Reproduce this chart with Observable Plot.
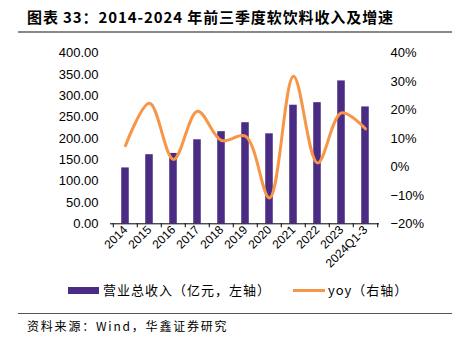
<!DOCTYPE html>
<html><head><meta charset="utf-8">
<script src="https://cdn.jsdelivr.net/npm/d3@7"></script>
<script src="https://cdn.jsdelivr.net/npm/@observablehq/plot@0.6"></script>
<style>
body{margin:0;width:457px;height:350px;position:relative;background:#fff;overflow:hidden;font-family:"Noto Sans CJK SC","Liberation Sans",sans-serif;color:#000}
#chart{position:absolute;left:0;top:0}
#title{position:absolute;left:27px;top:7px;font-size:15px;font-weight:bold;letter-spacing:0.9px;white-space:nowrap;line-height:20px}
#tline{position:absolute;left:18px;top:31px;width:434px;height:2px;background:#888}
.sw{position:absolute}
.lt{position:absolute;font-size:13px;letter-spacing:1px;line-height:16px;white-space:nowrap}
#sline{position:absolute;left:18px;top:313px;width:434px;height:1px;background:#555}
#source{position:absolute;left:27px;top:318px;font-size:12px;letter-spacing:1.8px;line-height:16px;white-space:nowrap}
</style>
</head><body>
<div id="chart"></div>
<div id="title">图表 33：2014-2024 年前三季度软饮料收入及增速</div>
<div id="tline"></div>
<div class="sw" style="left:68px;top:287px;width:31px;height:7px;background:#4B2C84"></div>
<div class="lt" style="left:103px;top:282px">营业总收入（亿元，左轴）</div>
<div class="sw" style="left:293px;top:289px;width:32px;height:3px;background:#F79646"></div>
<div class="lt" style="left:328px;top:282px">yoy（右轴）</div>
<div id="sline"></div>
<div id="source">资料来源：Wind，华鑫证券研究</div>
<script>
const categories = ["2014","2015","2016","2017","2018","2019","2020","2021","2022","2023","2024Q1-3"];
const revenue = [131,162,165,197,216,237,211,278,284,335,274];
const yoy = [7.5,22.4,2.6,19.6,9.3,10.8,-10.9,31.9,1.4,19.0,13.4];
const leftTicks = [0,50,100,150,200,250,300,350,400];
const rightTicks = [-20,-10,0,10,20,30,40];

const data = categories.map((c,i)=>({cat:c, rev:revenue[i], yoy:yoy[i]}));
const toLeft = v => (v + 20) * 400 / 60;
const fromLeft = v => v * 60 / 400 - 20;

const W = 457, ML = 110, MR = 78;
const step = (W - ML - MR) / categories.length;

const chart = Plot.plot({
  width: W, height: 280,
  marginLeft: ML, marginRight: MR, marginTop: 52.7, marginBottom: 56.7,
  x: {domain: categories, padding: 0, axis: null},
  y: {domain: [0, 400], axis: null},
  style: {fontFamily: "Liberation Sans, Arial, sans-serif", fontSize: "13px", color: "#000", background: "transparent"},
  marks: [
    Plot.barY(data, {x: "cat", y: "rev", fill: "#4B2C84", insetLeft: (step-8)/2, insetRight: (step-8)/2}),
    Plot.line(data, {x: "cat", y: d => toLeft(d.yoy), stroke: "#F79646", strokeWidth: 3, curve: "catmull-rom"}),
    Plot.ruleY([0], {stroke: "#000"}),
    Plot.axisY({anchor: "left", label: null, ticks: leftTicks, tickSize: 0, tickPadding: 12, tickFormat: d => d.toFixed(2)}),
    Plot.axisY({anchor: "right", label: null, ticks: rightTicks.map(toLeft), tickSize: 0, tickPadding: 11, tickFormat: d => {const v = Math.round(fromLeft(d)); return (v < 0 ? "\u2212" + (-v) : v) + "%";}}),
    Plot.axisX({label: null, ticks: categories, tickSize: 0, tickRotate: -45, tickPadding: 4, fontSize: 12}),
    Plot.axisX({label: null, ticks: categories, tickSize: 4, tickFormat: () => "", dx: -step/2}),
    Plot.axisX({label: null, ticks: [categories[categories.length-1]], tickSize: 4, tickFormat: () => "", dx: step/2})
  ]
});
document.getElementById("chart").appendChild(chart);
</script>
</body></html>
